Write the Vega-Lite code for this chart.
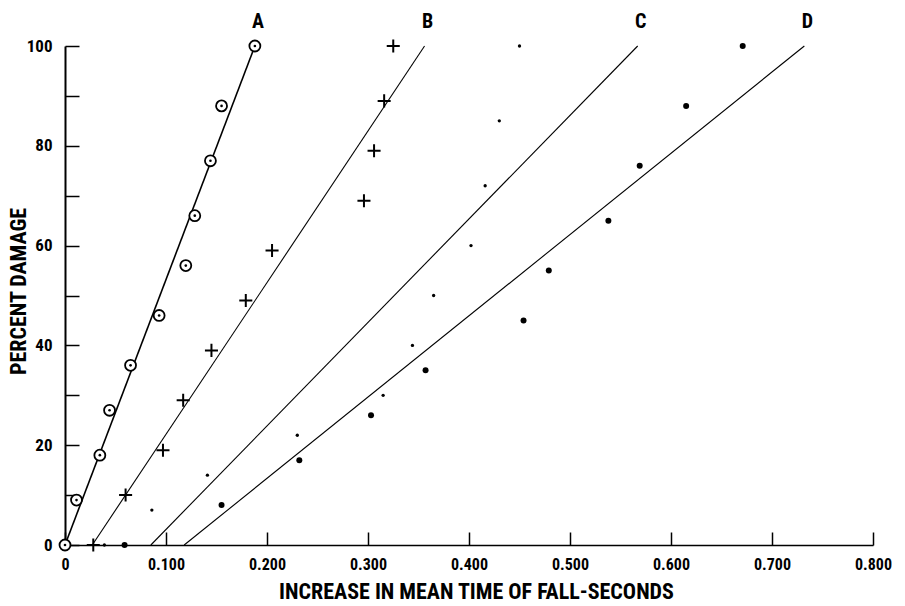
{
  "$schema": "https://vega.github.io/schema/vega-lite/v6.json",
  "autosize": "none",
  "padding": {"left": 65, "top": 46, "right": 32, "bottom": 61},
  "width": 808,
  "height": 499,
  "background": "white",
  "config": {
    "view": {"stroke": null},
    "font": "Roboto Condensed, Roboto, sans-serif"
  },
  "datasets": {
    "pts": [
      {"series": "A", "x": 0.0, "y": 0},
      {"series": "A", "x": 0.0114, "y": 9},
      {"series": "A", "x": 0.0345, "y": 18},
      {"series": "A", "x": 0.0441, "y": 27},
      {"series": "A", "x": 0.0649, "y": 36},
      {"series": "A", "x": 0.0932, "y": 46},
      {"series": "A", "x": 0.1196, "y": 56},
      {"series": "A", "x": 0.1285, "y": 66},
      {"series": "A", "x": 0.144, "y": 77},
      {"series": "A", "x": 0.155, "y": 88},
      {"series": "A", "x": 0.188, "y": 100},
      {"series": "B", "x": 0.028, "y": 0},
      {"series": "B", "x": 0.060, "y": 10},
      {"series": "B", "x": 0.097, "y": 19},
      {"series": "B", "x": 0.117, "y": 29},
      {"series": "B", "x": 0.145, "y": 39},
      {"series": "B", "x": 0.179, "y": 49},
      {"series": "B", "x": 0.205, "y": 59},
      {"series": "B", "x": 0.296, "y": 69},
      {"series": "B", "x": 0.306, "y": 79},
      {"series": "B", "x": 0.316, "y": 89},
      {"series": "B", "x": 0.325, "y": 100},
      {"series": "C", "x": 0.039, "y": 0},
      {"series": "C", "x": 0.086, "y": 7},
      {"series": "C", "x": 0.141, "y": 14},
      {"series": "C", "x": 0.230, "y": 22},
      {"series": "C", "x": 0.315, "y": 30},
      {"series": "C", "x": 0.344, "y": 40},
      {"series": "C", "x": 0.365, "y": 50},
      {"series": "C", "x": 0.402, "y": 60},
      {"series": "C", "x": 0.416, "y": 72},
      {"series": "C", "x": 0.430, "y": 85},
      {"series": "C", "x": 0.450, "y": 100},
      {"series": "D", "x": 0.059, "y": 0},
      {"series": "D", "x": 0.155, "y": 8},
      {"series": "D", "x": 0.232, "y": 17},
      {"series": "D", "x": 0.303, "y": 26},
      {"series": "D", "x": 0.357, "y": 35},
      {"series": "D", "x": 0.454, "y": 45},
      {"series": "D", "x": 0.479, "y": 55},
      {"series": "D", "x": 0.538, "y": 65},
      {"series": "D", "x": 0.569, "y": 76},
      {"series": "D", "x": 0.615, "y": 88},
      {"series": "D", "x": 0.671, "y": 100}
    ],
    "fits": [
      {"series": "A", "x": 0.0, "y": 0},
      {"series": "A", "x": 0.188, "y": 100},
      {"series": "B", "x": 0.027, "y": 0},
      {"series": "B", "x": 0.356, "y": 100},
      {"series": "C", "x": 0.085, "y": 0},
      {"series": "C", "x": 0.567, "y": 100},
      {"series": "D", "x": 0.118, "y": 0},
      {"series": "D", "x": 0.732, "y": 100}
    ]
  },
  "encoding": {
    "x": {
      "field": "x", "type": "quantitative",
      "scale": {"domain": [0, 0.8], "nice": false, "zero": false},
      "axis": {
        "title": "INCREASE IN MEAN TIME OF FALL-SECONDS",
        "values": [0, 0.1, 0.2, 0.3, 0.4, 0.5, 0.6, 0.7, 0.8],
        "labelExpr": "datum.value == 0 ? '0' : format(datum.value, '.3f')",
        "grid": false,
        "domainColor": "black", "domainWidth": 1.5,
        "tickColor": "black", "tickWidth": 1.5, "tickSize": -13,
        "labelFont": "Roboto Condensed, Roboto, sans-serif",
        "labelFontWeight": "bold", "labelFontSize": 16, "labelColor": "black",
        "labelPadding": 24, "labelFlush": false, "labelOverlap": false,
        "titleFont": "Roboto Condensed, Roboto, sans-serif",
        "titleFontWeight": "bold", "titleFontSize": 22, "titleColor": "black",
        "titleX": 411, "titleY": 53, "titleBaseline": "alphabetic", "titleAlign": "center"
      }
    },
    "y": {
      "field": "y", "type": "quantitative",
      "scale": {"domain": [0, 100], "nice": false},
      "axis": {
        "title": "PERCENT DAMAGE",
        "values": [0, 10, 20, 30, 40, 50, 60, 70, 80, 90, 100],
        "labelExpr": "datum.value % 20 == 0 ? datum.label : ''",
        "grid": false,
        "domainColor": "black", "domainWidth": 2,
        "tickColor": "black", "tickWidth": 1.5, "tickSize": -14,
        "labelFont": "Roboto Condensed, Roboto, sans-serif",
        "labelFontWeight": "bold", "labelFontSize": 17, "labelColor": "black",
        "labelPadding": 27, "labelFlush": false, "labelOverlap": false,
        "titleFont": "Roboto Condensed, Roboto, sans-serif",
        "titleFontWeight": "bold", "titleFontSize": 22, "titleColor": "black",
        "titleAngle": -90, "titleX": -40, "titleY": 245, "titleBaseline": "alphabetic", "titleAlign": "center"
      }
    }
  },
  "layer": [
    {
      "data": {"name": "fits"},
      "transform": [{"filter": "datum.series == 'A'"}],
      "mark": {"type": "line", "color": "black", "strokeWidth": 1.6},
      "encoding": {"detail": {"field": "series"}}
    },
    {
      "data": {"name": "fits"},
      "transform": [{"filter": "datum.series != 'A'"}],
      "mark": {"type": "line", "color": "black", "strokeWidth": 1.1},
      "encoding": {"detail": {"field": "series"}}
    },
    {
      "data": {"name": "fits"},
      "transform": [{"filter": "datum.y == 100"}],
      "mark": {"type": "text", "dx": 3, "dy": -18, "baseline": "alphabetic", "align": "center",
               "font": "Roboto Condensed, Roboto, sans-serif",
               "fontWeight": "bold", "fontSize": 20, "color": "black"},
      "encoding": {"text": {"field": "series"}}
    },
    {
      "data": {"name": "pts"},
      "transform": [{"filter": "datum.series == 'A'"}],
      "mark": {"type": "point", "shape": "circle", "filled": true, "fill": "white", "stroke": "black", "strokeWidth": 1.8, "size": 120, "opacity": 1}
    },
    {
      "data": {"name": "pts"},
      "transform": [{"filter": "datum.series == 'A'"}],
      "mark": {"type": "point", "shape": "circle", "filled": true, "color": "black", "size": 7, "opacity": 1}
    },
    {
      "data": {"name": "pts"},
      "transform": [{"filter": "datum.series == 'B'"}],
      "mark": {"type": "point", "shape": "M-1,0L1,0M0,-1L0,1", "filled": false, "stroke": "black", "strokeWidth": 2, "size": 170, "opacity": 1}
    },
    {
      "data": {"name": "pts"},
      "transform": [{"filter": "datum.series == 'C'"}],
      "mark": {"type": "point", "shape": "circle", "filled": true, "color": "black", "size": 11, "opacity": 1}
    },
    {
      "data": {"name": "pts"},
      "transform": [{"filter": "datum.series == 'D'"}],
      "mark": {"type": "point", "shape": "circle", "filled": true, "color": "black", "size": 36, "opacity": 1}
    }
  ]
}
